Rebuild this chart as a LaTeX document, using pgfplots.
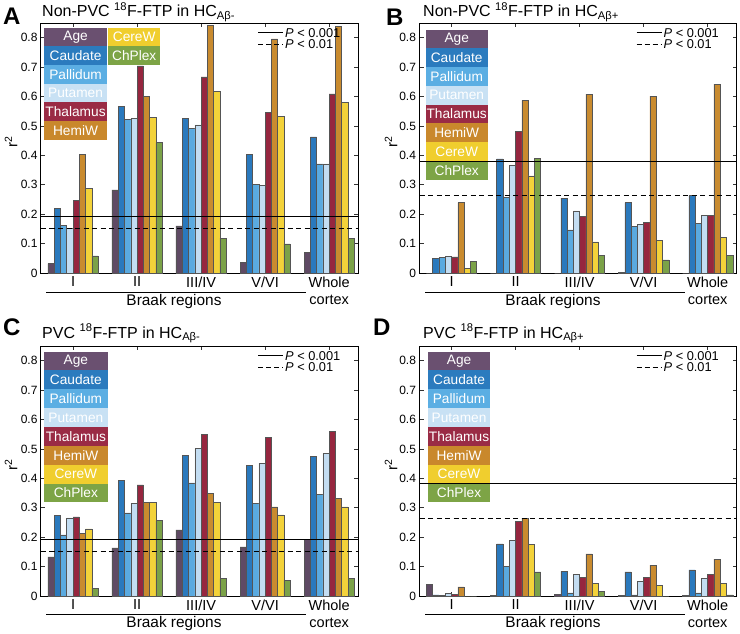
\documentclass[border=0pt]{standalone}
\usepackage{fontspec}
\setmainfont{Liberation Sans}
\usepackage{pgfplots}
\usepackage{pgfplotstable}
\pgfplotsset{compat=1.18}

\definecolor{cAge}{HTML}{5F4A64}
\definecolor{cCau}{HTML}{2A79BD}
\definecolor{cPal}{HTML}{5AAAE0}
\definecolor{cPut}{HTML}{C3DDF2}
\definecolor{cTha}{HTML}{96263F}
\definecolor{cHem}{HTML}{C98B2F}
\definecolor{cCer}{HTML}{F3D23A}
\definecolor{cChp}{HTML}{7BA248}
\definecolor{lAge}{HTML}{6A5070}
\definecolor{lCau}{HTML}{2B7BBE}
\definecolor{lPal}{HTML}{5BAEE3}
\definecolor{lPut}{HTML}{C8E1F4}
\definecolor{lTha}{HTML}{9A2B45}
\definecolor{lHem}{HTML}{C9882C}
\definecolor{lCer}{HTML}{F0CE2E}
\definecolor{lChp}{HTML}{7DA446}
\definecolor{edge}{HTML}{555555}

\pgfplotstableread{
x Age Caudate Pallidum Putamen Thalamus HemiW CereW ChPlex
0 0.032 0.221 0.163 0.151 0.246 0.404 0.288 0.058
1 0.283 0.567 0.522 0.527 0.704 0.601 0.530 0.443
2 0.160 0.527 0.493 0.504 0.667 0.841 0.618 0.119
3 0.036 0.404 0.302 0.299 0.546 0.796 0.532 0.099
4 0.071 0.463 0.371 0.371 0.609 0.838 0.581 0.117
}\dataA
\pgfplotstableread{
x Age Caudate Pallidum Putamen Thalamus HemiW CereW ChPlex
0 0.000 0.050 0.052 0.057 0.055 0.239 0.017 0.039
1 0.000 0.388 0.258 0.367 0.481 0.587 0.330 0.390
2 0.000 0.255 0.147 0.211 0.193 0.608 0.106 0.061
3 0.002 0.239 0.159 0.166 0.171 0.601 0.110 0.045
4 0.000 0.263 0.169 0.197 0.195 0.642 0.122 0.059
}\dataB
\pgfplotstableread{
x Age Caudate Pallidum Putamen Thalamus HemiW CereW ChPlex
0 0.133 0.274 0.208 0.266 0.269 0.214 0.228 0.027
1 0.164 0.392 0.283 0.316 0.378 0.319 0.319 0.256
2 0.225 0.477 0.385 0.501 0.549 0.348 0.319 0.059
3 0.167 0.444 0.314 0.452 0.539 0.303 0.276 0.053
4 0.192 0.474 0.345 0.484 0.561 0.331 0.303 0.061
}\dataC
\pgfplotstableread{
x Age Caudate Pallidum Putamen Thalamus HemiW CereW ChPlex
0 0.039 0.004 0.002 0.008 0.006 0.031 0.000 0.000
1 0.003 0.177 0.102 0.188 0.253 0.265 0.175 0.082
2 0.005 0.084 0.011 0.073 0.064 0.143 0.044 0.015
3 0.002 0.082 0.004 0.050 0.064 0.105 0.036 0.000
4 0.003 0.089 0.011 0.061 0.073 0.125 0.043 0.004
}\dataD

\pgfplotsset{
  panel/.style={
    scale only axis, width=317pt, height=250pt,
    xmin=-0.5, xmax=4.45, ymin=0, ymax=0.85,
    ybar=0pt, bar width=0.098,
    xtick={0,1,2,3,4},
    xticklabels={I,II,III/IV,V/VI,{Whole\\cortex}},
    xticklabel style={align=center, font=\fontsize{14.5}{17}\selectfont},
    ytick={0,0.1,0.2,0.3,0.4,0.5,0.6,0.7,0.8},
    yticklabels={0,0.1,0.2,0.3,0.4,0.5,0.6,0.7,0.8},
    yticklabel style={font=\fontsize{12}{12}\selectfont},
    tick align=inside, major tick length=4pt,
    tick style={black!80, line width=0.6pt},
    axis line style={black, line width=1pt},
    every axis plot/.append style={draw=edge, line width=0.5pt},
  }
}

\newcommand{\legbox}[6]{\node[anchor=north west, fill=#5, minimum width=#3, minimum height=#4, inner sep=0pt, text=white, font=\fontsize{13.7}{14}\selectfont] at ([xshift=#1,yshift=#2]rel axis cs:0,1) {#6};}

\newcommand{\barpanel}[5]{%
\begin{axis}[panel, at={(#1)}, anchor=south west]
\addplot[fill=cAge] table[x=x,y=Age]{#2};
\addplot[fill=cCau] table[x=x,y=Caudate]{#2};
\addplot[fill=cPal] table[x=x,y=Pallidum]{#2};
\addplot[fill=cPut] table[x=x,y=Putamen]{#2};
\addplot[fill=cTha] table[x=x,y=Thalamus]{#2};
\addplot[fill=cHem] table[x=x,y=HemiW]{#2};
\addplot[fill=cCer] table[x=x,y=CereW]{#2};
\addplot[fill=cChp] table[x=x,y=ChPlex]{#2};
#5
\draw[black, line width=0.9pt] (axis cs:-0.5,#3) -- (axis cs:4.45,#3);
\draw[black, line width=0.9pt, dash pattern=on 5pt off 3.5pt] (axis cs:-0.5,#4) -- (axis cs:4.45,#4);
\draw[black, line width=0.9pt] ([xshift=217pt,yshift=-9.5pt]rel axis cs:0,1) -- ([xshift=242pt,yshift=-9.5pt]rel axis cs:0,1);
\draw[black, line width=0.9pt, dash pattern=on 5pt off 3pt] ([xshift=217pt,yshift=-21.3pt]rel axis cs:0,1) -- ([xshift=242pt,yshift=-21.3pt]rel axis cs:0,1);
\node[anchor=base west, inner sep=0pt, font=\fontsize{12.8}{13}\selectfont] at ([xshift=244pt,yshift=-14pt]rel axis cs:0,1) {\textit{P} < 0.001};
\node[anchor=base west, inner sep=0pt, font=\fontsize{12.8}{13}\selectfont] at ([xshift=244pt,yshift=-25.8pt]rel axis cs:0,1) {\textit{P} < 0.01};
\end{axis}}

\newcommand{\legcol}[4]{% xoff, yoff, w, h : full 8-entry column
\legbox{#1}{#2}{#3}{#4}{lAge}{Age}
\legbox{#1}{#2-#4}{#3}{#4}{lCau}{Caudate}
\legbox{#1}{#2-2*#4}{#3}{#4}{lPal}{Pallidum}
\legbox{#1}{#2-3*#4}{#3}{#4}{lPut}{Putamen}
\legbox{#1}{#2-4*#4}{#3}{#4}{lTha}{Thalamus}
\legbox{#1}{#2-5*#4}{#3}{#4}{lHem}{HemiW}
\legbox{#1}{#2-6*#4}{#3}{#4}{lCer}{CereW}
\legbox{#1}{#2-7*#4}{#3}{#4}{lChp}{ChPlex}
}

\begin{document}
\begin{tikzpicture}[x=1pt,y=1pt]
\useasboundingbox (0,0) rectangle (740,-634);

% Panel A
\barpanel{41pt,-273pt}{\dataA}{0.191}{0.153}{%
\legbox{3pt}{-4.3pt}{62.7pt}{18.7pt}{lAge}{Age}
\legbox{3pt}{-23pt}{62.7pt}{18.7pt}{lCau}{Caudate}
\legbox{3pt}{-41.7pt}{62.7pt}{18.7pt}{lPal}{Pallidum}
\legbox{3pt}{-60.4pt}{62.7pt}{18.7pt}{lPut}{Putamen}
\legbox{3pt}{-79.1pt}{62.7pt}{18.7pt}{lTha}{Thalamus}
\legbox{3pt}{-97.8pt}{62.7pt}{18.7pt}{lHem}{HemiW}
\legbox{67pt}{-4.3pt}{52pt}{18.7pt}{lCer}{CereW}
\legbox{67pt}{-23pt}{52pt}{18.7pt}{lChp}{ChPlex}
}
% Panel B
\barpanel{419.5pt,-273pt}{\dataB}{0.380}{0.264}{\legcol{6pt}{-6.3pt}{62pt}{18.75pt}}
% Panel C
\barpanel{41pt,-596pt}{\dataC}{0.192}{0.152}{\legcol{3pt}{-5.3pt}{63.3pt}{18.87pt}}
% Panel D
\barpanel{419.5pt,-596pt}{\dataD}{0.381}{0.265}{\legcol{8pt}{-5.3pt}{62.7pt}{18.87pt}}

% Panel letters and titles
\node[anchor=base west, inner sep=0pt, font=\fontsize{24}{24}\bfseries\selectfont] at (3,-25) {A};
\node[anchor=base west, inner sep=0pt, font=\fontsize{24}{24}\bfseries\selectfont] at (386,-26) {B};
\node[anchor=base west, inner sep=0pt, font=\fontsize{24}{24}\bfseries\selectfont] at (3,-335) {C};
\node[anchor=base west, inner sep=0pt, font=\fontsize{24}{24}\bfseries\selectfont] at (373,-335) {D};
\node[anchor=base west, inner sep=0pt, font=\fontsize{16}{16}\selectfont] at (42,-16.7) {Non-PVC \textsuperscript{18}F-FTP in HC\textsubscript{Aβ-}};
\node[anchor=base west, inner sep=0pt, font=\fontsize{16}{16}\selectfont] at (423,-16.7) {Non-PVC \textsuperscript{18}F-FTP in HC\textsubscript{Aβ+}};
\node[anchor=base west, inner sep=0pt, font=\fontsize{16}{16}\selectfont] at (42,-338) {PVC \textsuperscript{18}F-FTP in HC\textsubscript{Aβ-}};
\node[anchor=base west, inner sep=0pt, font=\fontsize{16}{16}\selectfont] at (423,-338) {PVC \textsuperscript{18}F-FTP in HC\textsubscript{Aβ+}};

% y labels
\foreach \px/\py in {11/-142, 391/-142, 11/-465, 391/-465}
  \node[rotate=90, inner sep=0pt, font=\fontsize{15}{15}\selectfont] at (\px,\py) {r\textsuperscript{2}};

% Braak region brackets
\foreach \lx/\rx/\ly/\ty in {46/306/-292.7/-302, 425/685/-292.7/-302, 46/306/-614/-624, 425/685/-614/-624}{
  \draw[black, line width=0.8pt] (\lx,\ly) -- (\rx,\ly);
  \node[inner sep=0pt, font=\fontsize{15.4}{16}\selectfont] at ({(\lx+\rx)/2-2},\ty) {Braak regions};
}
\end{tikzpicture}
\end{document}
